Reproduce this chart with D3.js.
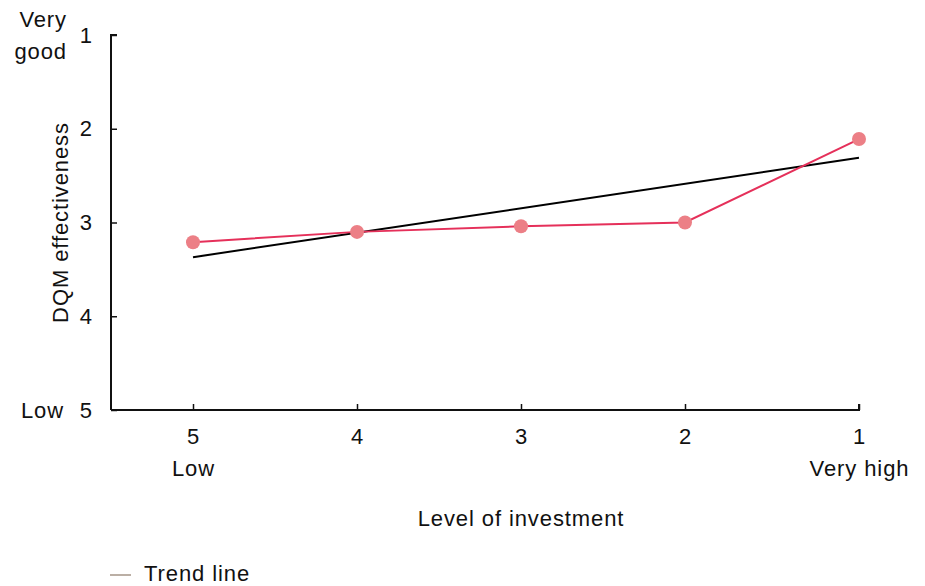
<!DOCTYPE html>
<html><head><meta charset="utf-8">
<script src="https://cdn.jsdelivr.net/npm/d3@7"></script>
<style>
body{margin:0;background:#fff;}
text{font-family:"Liberation Sans",Arial,sans-serif;fill:#111;letter-spacing:0.9px;}
</style></head>
<body><svg id="c" width="925" height="586"></svg>
<script>
const categories = [5, 4, 3, 2, 1];
const effectiveness = [3.21, 3.10, 3.04, 3.00, 2.11];
const trendStart = 3.37, trendEnd = 2.31;
const yTicks = [1, 2, 3, 4, 5];
const xSubLabels = {5: "Low", 1: "Very high"};
const ySideLabels = [["Very", "good"], ["Low"]];

const svg = d3.select("#c");
const L = 111, R = 859, T = 35, B = 410;
const fs = 22;

// piecewise linear x scale (last category slightly farther)
const x = d3.scaleLinear().domain([5, 2, 1]).range([193, 685, R]);
const y = d3.scaleLinear().domain([1, 5]).range([T, B]);

// axes
const xAxis = d3.axisBottom(x).tickValues(categories).tickFormat(d3.format("d")).tickSizeInner(-6).tickSizeOuter(0);
const gx = svg.append("g").attr("transform", `translate(0,${B})`).call(xAxis);
gx.select(".domain").attr("d", `M${L},0H${R}V-6`).attr("stroke", "#111").attr("stroke-width", 2);
gx.selectAll(".tick line").attr("stroke", "#111").attr("stroke-width", 1.5);
gx.selectAll(".tick text").attr("font-size", fs).attr("y", 18).attr("dy", "0.71em").style("font-family", "Liberation Sans, Arial");
gx.selectAll(".tick").filter(d => xSubLabels[d]).append("text")
  .attr("y", 66).attr("text-anchor", "middle").attr("font-size", fs).attr("fill", "#111")
  .style("font-family", "Liberation Sans, Arial").text(d => xSubLabels[d]);

const yAxis = d3.axisLeft(y).tickValues(yTicks).tickFormat(d3.format("d")).tickSizeInner(-6).tickSizeOuter(0).tickPadding(18);
const gy = svg.append("g").attr("transform", `translate(${L},0)`).call(yAxis);
gy.select(".domain").attr("d", `M6,${T}H0V${B}`).attr("stroke", "#111").attr("stroke-width", 2);
gy.selectAll(".tick line").attr("stroke", "#111").attr("stroke-width", 1.5);
gy.selectAll(".tick text").attr("font-size", fs).style("font-family", "Liberation Sans, Arial");

// side labels
svg.append("text").attr("x", 67).attr("y", 27).attr("text-anchor", "end").attr("font-size", fs).text(ySideLabels[0][0]);
svg.append("text").attr("x", 67).attr("y", 59).attr("text-anchor", "end").attr("font-size", fs).text(ySideLabels[0][1]);
svg.append("text").attr("x", 64).attr("y", y(5)).attr("dy", "0.35em").attr("text-anchor", "end").attr("font-size", fs).text(ySideLabels[1][0]);

// axis titles
svg.append("text").attr("transform", `translate(68,${y(3)}) rotate(-90)`).attr("text-anchor", "middle").attr("font-size", fs).text("DQM effectiveness");
svg.append("text").attr("x", x(3)).attr("y", 526).attr("text-anchor", "middle").attr("font-size", fs).text("Level of investment");

// trend line
svg.append("line").attr("x1", x(5)).attr("y1", y(trendStart)).attr("x2", x(1)).attr("y2", y(trendEnd))
  .attr("stroke", "#000").attr("stroke-width", 2);

// data line
const line = d3.line().x((d, i) => x(categories[i])).y(d => y(d));
svg.append("path").datum(effectiveness).attr("d", line).attr("fill", "none").attr("stroke", "#E5305A").attr("stroke-width", 2);
svg.selectAll("circle.pt").data(effectiveness).join("circle").attr("class", "pt")
  .attr("cx", (d, i) => x(categories[i])).attr("cy", d => y(d)).attr("r", 7).attr("fill", "#EC7F86");

// legend
svg.append("line").attr("x1", 110).attr("x2", 131).attr("y1", 575).attr("y2", 575).attr("stroke", "#BBAFA5").attr("stroke-width", 2);
svg.append("text").attr("x", 144).attr("y", 581).attr("font-size", fs).text("Trend line");
</script></body></html>
